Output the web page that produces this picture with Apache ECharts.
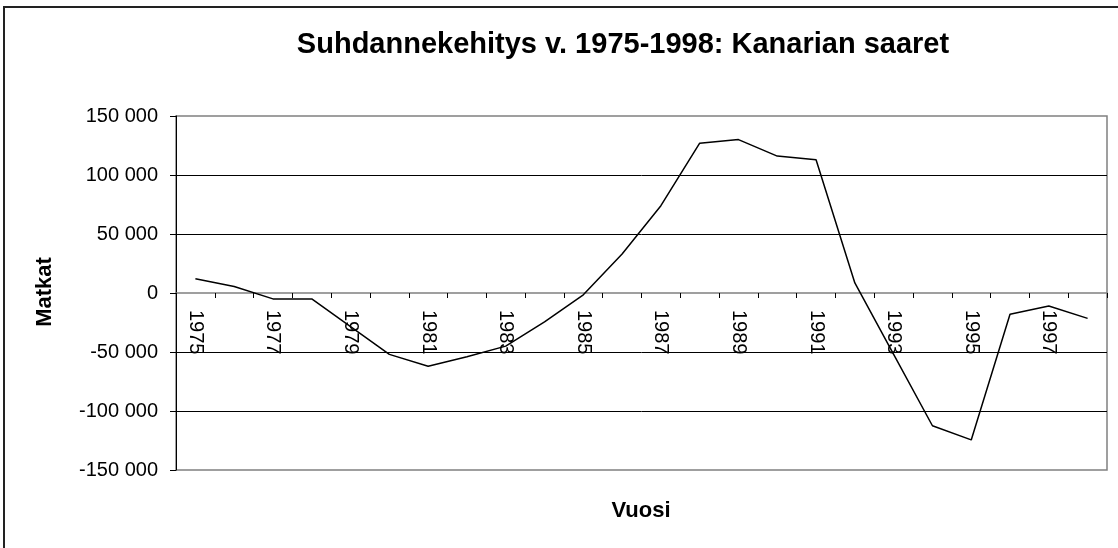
<!DOCTYPE html>
<html>
<head>
<meta charset="utf-8">
<script src="https://cdn.jsdelivr.net/npm/echarts@6/dist/echarts.min.js"></script>
<style>
  html, body { margin: 0; padding: 0; background: #fff; }
  #chart { width: 1118px; height: 548px; }
</style>
</head>
<body>
<div id="chart"></div>
<script>
const years = ["1975", "1976", "1977", "1978", "1979", "1980", "1981", "1982",
  "1983", "1984", "1985", "1986", "1987", "1988", "1989", "1990",
  "1991", "1992", "1993", "1994", "1995", "1996", "1997", "1998"];
const trips = [12000, 5500, -5000, -5000, -28500, -52000, -62000, -54000,
  -45000, -24500, -1500, 33000, 74000, 127000, 130000, 116000,
  113000, 8500, -52000, -112500, -124500, -18000, -11000, -21500];
const yMin = -150000;
const yMax = 150000;
const yStep = 50000;

const font = "Liberation Sans, Arial, sans-serif";

// inner gridlines (black); the outer ones are the plot border, zero is the x axis
const innerLines = [];
for (let v = yMin + yStep; v < yMax; v += yStep) {
  if (v !== 0) innerLines.push({ yAxis: v });
}

function fmt(v) {
  // 150000 -> "150 000"
  const s = Math.abs(v).toString().replace(/\B(?=(\d{3})+(?!\d))/g, " ");
  return (v < 0 ? "-" : "") + s;
}

const gridTop = 116;
const gridHeight = 354;

const chart = echarts.init(document.getElementById("chart"), null, { renderer: "canvas" });
chart.setOption({
  animation: false,
  backgroundColor: "#fff",
  title: {
    text: "Suhdannekehitys v. 1975-1998: Kanarian saaret",
    left: 618,
    top: 25,
    textAlign: "center",
    textStyle: { fontFamily: font, fontWeight: "bold", fontSize: 29, color: "#000" }
  },
  graphic: [
    {
      type: "rect",
      shape: { x: 4, y: 7, width: 1300, height: 700 },
      style: { fill: null, stroke: "#222", lineWidth: 2 },
      silent: true
    },
    {
      type: "text",
      x: 641,
      y: 511,
      style: { text: "Vuosi", fontFamily: font, fontWeight: "bold", fontSize: 22, fill: "#000",
        textAlign: "center", textVerticalAlign: "middle" }
    },
    {
      type: "text",
      x: 45,
      y: 292,
      rotation: Math.PI / 2,
      style: { text: "Matkat", fontFamily: font, fontWeight: "bold", fontSize: 22, fill: "#000",
        textAlign: "center", textVerticalAlign: "middle" }
    }
  ],
  grid: {
    left: 176,
    right: 11,
    top: gridTop,
    height: gridHeight,
    show: true,
    borderColor: "#808080",
    borderWidth: 1.5
  },
  xAxis: {
    type: "category",
    data: years,
    boundaryGap: true,
    axisLine: { onZero: true, lineStyle: { color: "#808080", width: 1.5 } },
    axisTick: { show: true, interval: 0, alignWithLabel: false, length: 5, lineStyle: { color: "#000" } },
    axisLabel: {
      interval: 1,
      rotate: -90,
      // labels sit at the plot bottom; pull them up under the zero line
      margin: 17 - gridHeight / 2,
      fontFamily: font,
      fontSize: 20,
      color: "#000"
    },
    splitLine: { show: false }
  },
  yAxis: {
    type: "value",
    min: yMin,
    max: yMax,
    interval: yStep,
    axisLine: { show: true, lineStyle: { color: "#000", width: 1 } },
    axisTick: { show: true, length: 6, lineStyle: { color: "#000" } },
    axisLabel: {
      margin: 18,
      fontFamily: font,
      fontSize: 20,
      color: "#000",
      formatter: fmt
    },
    splitLine: { show: false }
  },
  series: [
    {
      type: "line",
      data: trips,
      showSymbol: false,
      symbol: "none",
      lineStyle: { color: "#000", width: 1.5 },
      z: 5,
      markLine: {
        silent: true,
        symbol: "none",
        label: { show: false },
        lineStyle: { color: "#000", width: 1, type: "solid" },
        data: innerLines,
        z: 1
      }
    }
  ]
});
</script>
</body>
</html>
